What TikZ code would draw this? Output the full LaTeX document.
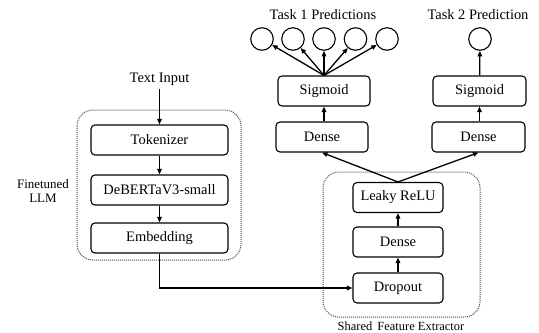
\documentclass[tikz,border=0pt]{standalone}
\usepackage{fontspec}
\setmainfont{Liberation Serif}
\usetikzlibrary{arrows.meta}
\tikzset{
  blk/.style={draw, line width=1.1bp, rounded corners=4bp, minimum height=30bp, inner sep=0pt, font=\fontsize{14.5}{16}\selectfont},
  outp/.style={draw, circle, line width=1.1bp, minimum size=22.5bp, inner sep=0pt},
  grp/.style={draw={rgb,255:red,60;green,82;blue,104}, dash pattern=on 1bp off 1bp, line width=1bp, rounded corners=16bp},
  lbl/.style={font=\fontsize{14.5}{16}\selectfont},
  flow/.style={line width=1.3bp, -{Triangle[length=5.5bp,width=4.5bp]}},
}
\begin{document}
\begin{tikzpicture}[x=1bp,y=-1bp]
\useasboundingbox (0,0) rectangle (539,332);
% dotted groups
\draw[grp](77,110) rectangle (241,260);
\draw[grp](323,172) rectangle (480,317);
\node[font=\fontsize{13}{15}\selectfont, align=center] (llmtxt) at (43,191) {Finetuned\\LLM};
\node[font=\fontsize{12.5}{14}\selectfont] (sfetxt) at (401,326) {Shared\, Feature Extractor};
% language model column
\node[lbl] (txtin) at (159.5,79) {Text Input};
\node[blk, minimum width=137bp] (tok) at (159.5,140) {Tokenizer};
\node[blk, minimum width=137bp] (deb) at (159.5,190) {DeBERTaV3-small};
\node[blk, minimum width=137bp] (emb) at (159.5,238) {Embedding};
% shared extractor
\node[blk, minimum width=90bp] (drop) at (398,288) {Dropout};
\node[blk, minimum width=90bp] (dns) at (398,242) {Dense};
\node[blk, minimum width=90bp] (lrelu) at (398,197.5) {Leaky ReLU};
% task heads
\node[blk, minimum width=92bp] (dnsA) at (322,137) {Dense};
\node[blk, minimum width=92bp] (sigA) at (324,91) {Sigmoid};
\node[blk, minimum width=93bp] (dnsB) at (478.5,137) {Dense};
\node[blk, minimum width=93bp] (sigB) at (479.5,91) {Sigmoid};
\foreach \i/\x in {1/262,2/293,3/324,4/355.5,5/387}{\node[outp] (pA\i) at (\x,39) {};}
\node[outp] (pB) at (480,39) {};
\node[lbl] (taskA) at (323,15) {Task 1 Predictions};
\node[lbl] (taskB) at (478,15) {Task 2 Prediction};
% connectors
\draw[flow](txtin)--(tok);
\draw[flow](tok)--(deb);
\draw[flow](deb)--(emb);
\draw[flow](emb.south)|-(drop.west);
\draw[flow](drop)--(dns);
\draw[flow](dns)--(lrelu);
\draw[flow](lrelu.north)--(dnsA.south);
\draw[flow](lrelu.north)--(dnsB.south);
\draw[flow](dnsA.north-|sigA)--(sigA);
\draw[flow](dnsB.north-|sigB)--(sigB);
\foreach \i in {1,...,5}{\draw[flow](sigA.north)--(pA\i);}
\draw[flow](sigB)--(pB);
\end{tikzpicture}
\end{document}
